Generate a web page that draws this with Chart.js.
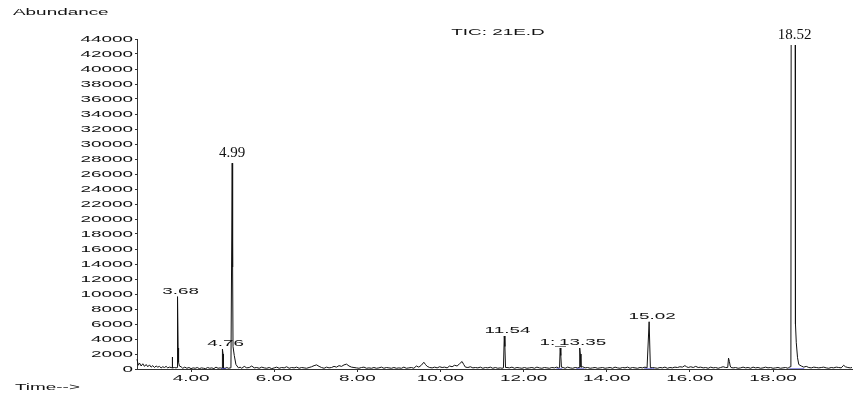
<!DOCTYPE html>
<html>
<head>
<meta charset="utf-8">
<title>TIC: 21E.D</title>
<script src="https://cdn.jsdelivr.net/npm/chart.js@4.4.0/dist/chart.umd.min.js"></script>
<style>
  html, body { margin: 0; padding: 0; background: #fff; }
  #wrap { width: 854px; height: 395px; }
</style>
</head>
<body>
<div id="wrap"><canvas id="tic" width="854" height="395"></canvas></div>
<script>
// Chromatogram values (time in min, abundance in counts)

// baseline noise between the peaks
const noiseTimes = [
  2.70, 2.73, 2.76, 2.80, 2.84, 2.88, 2.92, 2.96, 3.00, 3.04, 3.08, 3.12, 3.16, 3.20, 3.24, 3.28,
  3.32, 3.36, 3.40, 3.44, 3.48, 3.52, 3.60, 3.64, 3.76, 3.80, 3.85, 3.90, 3.95, 4.00, 4.05, 4.10,
  4.15, 4.20, 4.25, 4.30, 4.35, 4.40, 4.45, 4.50, 4.55, 4.60, 4.65, 4.70, 4.82, 4.86, 4.90, 4.94,
  5.18, 5.22, 5.28, 5.34, 5.40, 5.46, 5.52, 5.58, 5.64, 5.70, 5.76, 5.82, 5.88, 5.94, 6.00, 6.06,
  6.12, 6.18, 6.24, 6.30, 6.36, 6.42, 6.48, 6.54, 6.60, 6.66, 6.72, 6.78, 6.84, 6.90, 6.96, 7.02,
  7.08, 7.14, 7.20, 7.26, 7.32, 7.38, 7.44, 7.50, 7.56, 7.62, 7.68, 7.74, 7.80, 7.86, 7.92, 7.98,
  8.04, 8.10, 8.16, 8.22, 8.28, 8.34, 8.40, 8.46, 8.52, 8.58, 8.64, 8.70, 8.76, 8.82, 8.88, 8.94,
  9.00, 9.06, 9.12, 9.18, 9.24, 9.30, 9.36, 9.42, 9.48, 9.54, 9.60, 9.64, 9.68, 9.74, 9.80, 9.86,
  9.92, 9.98, 10.04, 10.10, 10.16, 10.22, 10.28, 10.34, 10.40, 10.46, 10.52, 10.56, 10.60, 10.66,
  10.72, 10.78, 10.84, 10.90, 10.96, 11.02, 11.08, 11.14, 11.20, 11.26, 11.32, 11.38, 11.44, 11.48,
  11.60, 11.66, 11.72, 11.78, 11.84, 11.90, 11.96, 12.02, 12.08, 12.14, 12.20, 12.26, 12.32, 12.38,
  12.44, 12.50, 12.56, 12.62, 12.68, 12.74, 12.80, 12.84, 12.95, 13.00, 13.06, 13.12, 13.18, 13.24,
  13.30, 13.42, 13.48, 13.54, 13.60, 13.66, 13.72, 13.78, 13.84, 13.90, 13.96, 14.02, 14.08, 14.14,
  14.20, 14.26, 14.32, 14.38, 14.44, 14.50, 14.56, 14.62, 14.68, 14.74, 14.80, 14.86, 14.92, 14.97,
  15.10, 15.16, 15.22, 15.28, 15.34, 15.40, 15.46, 15.52, 15.58, 15.64, 15.70, 15.76, 15.82, 15.88,
  15.92, 15.96, 16.02, 16.08, 16.14, 16.20, 16.26, 16.32, 16.38, 16.44, 16.50, 16.56, 16.62, 16.68,
  16.74, 16.80, 16.86, 17.04, 17.10, 17.16, 17.22, 17.28, 17.34, 17.40, 17.46, 17.52, 17.58, 17.64,
  17.70, 17.76, 17.82, 17.88, 17.94, 18.00, 18.06, 18.12, 18.18, 18.24, 18.30, 18.36, 18.68, 18.74,
  18.80, 18.86, 18.92, 18.98, 19.04, 19.10, 19.16, 19.22, 19.28, 19.34, 19.40, 19.46, 19.52, 19.58,
  19.64, 19.70, 19.74, 19.80, 19.86, 19.90
];
const noiseValues = [
  1300, 500, 800, 400, 700, 350, 600, 300, 550, 250, 450, 200, 400, 250, 350, 150,
  300, 200, 350, 150, 250, 200, 200, 150, 300, 100, 250, 100, 200, 50, 150, 100,
  200, 50, 150, 100, 50, 200, 100, 150, 50, 250, 100, 150, 100, 200, 100, 150,
  250, 100, 350, 150, 200, 400, 150, 200, 100, 250, 150, 100, 200, 50, 150, 250,
  100, 200, 150, 300, 100, 200, 150, 250, 100, 200, 150, 100, 200, 300, 450, 550,
  350, 200, 100, 250, 150, 200, 350, 250, 450, 350, 550, 650, 400, 250, 200, 150,
  100, 200, 250, 100, 150, 100, 200, 100, 150, 250, 100, 200, 150, 100, 200, 100,
  150, 100, 250, 100, 150, 200, 100, 400, 250, 500, 900, 600, 350, 200, 150, 250,
  150, 300, 200, 250, 150, 400, 300, 500, 400, 700, 1000, 600, 250, 200,
  300, 150, 200, 150, 250, 100, 200, 150, 250, 100, 200, 100, 150, 100,
  200, 150, 250, 100, 200, 150, 100, 200, 100, 150, 200, 100, 250, 150,
  100, 200, 150, 100, 200, 150, 250, 150, 200, 100, 250, 150, 100, 200,
  150, 300, 150, 200, 100, 150, 200, 100, 150, 200, 100, 150, 200, 100,
  250, 150, 100, 200, 150, 250, 100, 200, 150, 100, 200, 150, 250, 150,
  200, 150, 100, 200, 150, 250, 100, 200, 150, 250, 200, 300, 250, 450,
  300, 200, 300, 200, 350, 200, 250, 150, 200, 100, 250, 150, 200, 100,
  200, 300, 200, 150, 200, 100, 150, 250, 150, 200, 100, 250, 150, 200,
  100, 150, 250, 150, 200, 100, 150, 200, 100, 150, 200, 100, 400, 250,
  350, 200, 150, 250, 200, 150, 200, 250, 150, 100, 200, 150, 250, 200,
  150, 500, 300, 200, 150, 200
];

// the peaks themselves
const peakTimes = [
  3.545, 3.55, 3.555,
  3.665, 3.675, 3.69, 3.70, 3.72,
  4.745, 4.755, 4.77, 4.78,
  4.96, 4.99, 5.00, 5.01, 5.04, 5.08, 5.14,
  11.515, 11.535, 11.55, 11.565,
  12.865, 12.88, 12.895, 12.91,
  13.335, 13.35, 13.365, 13.38,
  14.99, 15.02, 15.05,
  16.91, 16.93, 16.95, 16.97, 16.99,
  18.41, 18.43, 18.44, 18.53, 18.54, 18.56, 18.59, 18.62
];
const peakValues = [
  150, 1600, 150,
  200, 9650, 2800, 900, 400,
  100, 2650, 2000, 100,
  200, 27450, 13600, 3000, 1800, 600, 150,
  150, 4400, 3000, 200,
  200, 2800, 1800, 250,
  200, 2800, 2000, 250,
  150, 6300, 150,
  200, 1450, 1000, 400, 200,
  300, 800, 70000, 70000, 6000, 3500, 1500, 600
];

// blue integration baselines under some peaks
const integrationStarts = [4.72, 12.79, 13.27, 14.90, 18.39];
const integrationEnds = [4.85, 12.93, 13.46, 15.14, 18.75];

// peak annotations
const peakLabelTimes = [3.68, 4.76, 4.99, 11.54, 12.88, 13.35, 15.02, 18.52];
const peakLabelHeights = [9650, 2650, 27450, 4400, 2800, 2800, 6300, 44000];
const peakLabelTexts = ['3.68', '4.76', '4.99', '11.54', '12.88', '13.35', '15.02', '18.52'];
const peakLabelSerif = [false, false, true, false, false, false, false, true];
const peakLabelShown = ['3.68', '4.76', '4.99', '11.54', '1:_', '13.35', '15.02', '18.52'];

// axes
const xTickValues = [4, 6, 8, 10, 12, 14, 16, 18];
const xTickLabels = ['4.00', '6.00', '8.00', '10.00', '12.00', '14.00', '16.00', '18.00'];
const yTickValues = [0, 2000, 4000, 6000, 8000, 10000, 12000, 14000, 16000, 18000, 20000, 22000,
  24000, 26000, 28000, 30000, 32000, 34000, 36000, 38000, 40000, 42000, 44000];

const ink = '#111';
const wideFont = '9px "Liberation Sans", Arial, sans-serif';
const wideStretch = 2.1;
const serifFont = '15px "Liberation Serif", "Times New Roman", serif';

// ChemStation-style stretched text
function wideText(ctx, text, x, y, align, baseline) {
  ctx.save();
  ctx.translate(x, y);
  ctx.scale(wideStretch, 1);
  ctx.font = wideFont;
  ctx.textAlign = align;
  ctx.textBaseline = baseline;
  ctx.fillText(text, 0, 0);
  ctx.restore();
}

const annotatePlugin = {
  id: 'annotate',
  afterDraw(chart) {
    const { ctx, chartArea } = chart;
    const xs = chart.scales.x;
    const ys = chart.scales.y;
    ctx.save();
    ctx.fillStyle = ink;

    yTickValues.forEach(v => {
      wideText(ctx, String(v), chartArea.left - 4, ys.getPixelForValue(v) + 0.5, 'right', 'middle');
    });
    xTickValues.forEach((v, i) => {
      wideText(ctx, xTickLabels[i], xs.getPixelForValue(v), chartArea.bottom + 12, 'center', 'alphabetic');
    });

    wideText(ctx, 'Abundance', 13, 15, 'left', 'alphabetic');
    wideText(ctx, 'Time-->', 15, 390, 'left', 'alphabetic');
    wideText(ctx, 'TIC: 21E.D', 498, 35, 'center', 'alphabetic');

    peakLabelTimes.forEach((t, i) => {
      const px = xs.getPixelForValue(t);
      const apex = Math.max(ys.getPixelForValue(peakLabelHeights[i]), chartArea.top);
      if (peakLabelSerif[i]) {
        ctx.font = serifFont;
        ctx.textAlign = 'center';
        ctx.textBaseline = 'alphabetic';
        ctx.fillText(peakLabelShown[i], px, Math.max(apex, chartArea.top + 6) - 6);
      } else if (peakLabelShown[i] !== peakLabelTexts[i]) {
        // label cut short by its neighbour: it starts where the full label would
        ctx.font = wideFont;
        const full = ctx.measureText(peakLabelTexts[i]).width * wideStretch;
        wideText(ctx, peakLabelShown[i], px + 3 - full / 2, apex - 3, 'left', 'alphabetic');
      } else {
        wideText(ctx, peakLabelShown[i], px + 3, apex - 3, 'center', 'alphabetic');
      }
    });
    ctx.restore();
  }
};

const tracePoints = noiseTimes.map((t, i) => ({ x: t, y: noiseValues[i] }))
  .concat(peakTimes.map((t, i) => ({ x: t, y: peakValues[i] })))
  .sort((a, b) => a.x - b.x);

const baselinePoints = [];
integrationStarts.forEach((s, i) => {
  baselinePoints.push({ x: s, y: 0 }, { x: integrationEnds[i], y: 0 }, { x: integrationEnds[i], y: null });
});

new Chart(document.getElementById('tic'), {
  type: 'line',
  data: {
    datasets: [
      {
        label: 'baseline',
        data: baselinePoints,
        borderColor: '#2a2ad0',
        borderWidth: 1,
        pointRadius: 0,
        spanGaps: false,
        order: 0
      },
      {
        label: 'TIC: 21E.D',
        data: tracePoints,
        borderColor: '#111',
        borderWidth: 1,
        pointRadius: 0,
        tension: 0,
        // the off-scale peak is cut a little below the top of the axis
        clip: { left: 1, top: -6, right: 1, bottom: 1 },
        order: 1
      }
    ]
  },
  options: {
    responsive: false,
    animation: false,
    events: [],
    layout: { padding: { top: 39, right: 2, left: 0, bottom: 0 } },
    plugins: {
      legend: { display: false },
      title: { display: false },
      tooltip: { enabled: false }
    },
    scales: {
      x: {
        type: 'linear',
        min: 2.7,
        max: 19.9,
        afterBuildTicks: s => { s.ticks = xTickValues.map(v => ({ value: v })); },
        afterFit: s => { s.height = 26; },
        ticks: { display: false },
        grid: { drawOnChartArea: false, drawTicks: true, tickLength: 3, color: '#333' },
        border: { display: true, color: '#333', width: 1 }
      },
      y: {
        type: 'linear',
        min: 0,
        max: 44000,
        afterBuildTicks: s => { s.ticks = yTickValues.map(v => ({ value: v })); },
        afterFit: s => { s.width = 137; },
        ticks: { display: false },
        grid: { drawOnChartArea: false, drawTicks: true, tickLength: 2, color: '#333' },
        border: { display: true, color: '#333', width: 1 }
      }
    }
  },
  plugins: [annotatePlugin]
});
</script>
</body>
</html>
